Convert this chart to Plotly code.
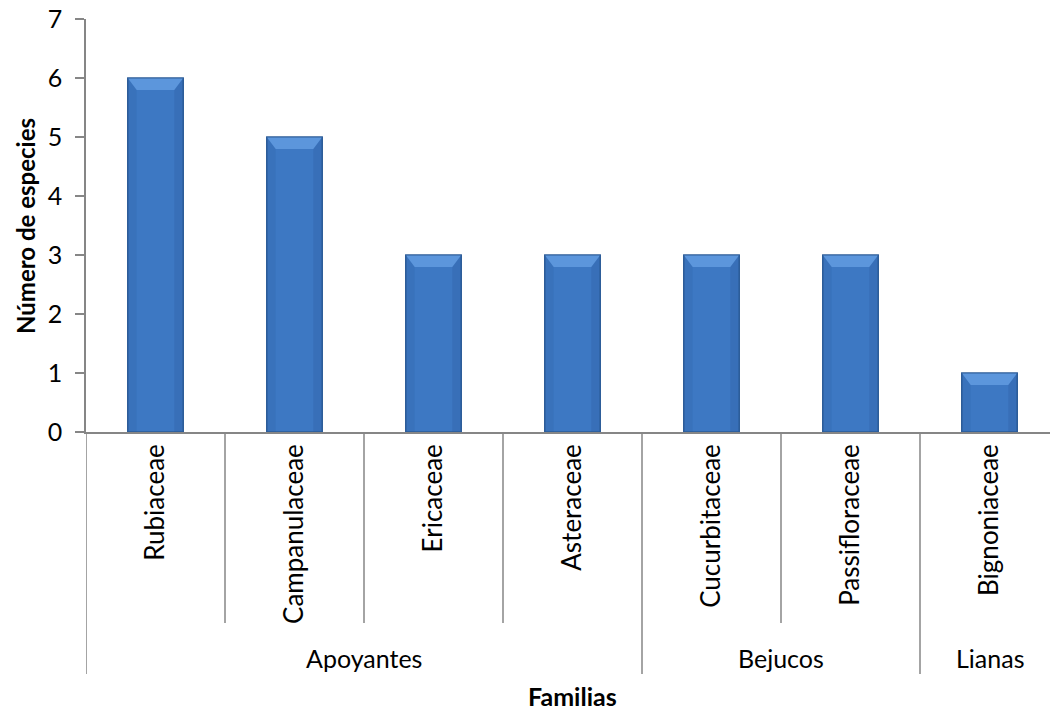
import plotly.graph_objects as go

# Species count per plant family, grouped by climbing habit
familias = ["Rubiaceae", "Campanulaceae", "Ericaceae", "Asteraceae",
            "Cucurbitaceae", "Passifloraceae", "Bignoniaceae"]
especies = [6, 5, 3, 3, 3, 3, 1]
grupos = ["Apoyantes", "Bejucos", "Lianas"]
grupo_tamano = [4, 2, 1]
y_ticks = [0, 1, 2, 3, 4, 5, 6, 7]

FONT = "Lato"
GRID = "#868686"
BAR_W = 0.40
TXT = 25

W, H = 1050, 713
M_L, M_R, M_T, M_B = 86, 0, 19, 281
plot_w = W - M_L - M_R
plot_h = H - M_T - M_B
cat_px = 139.0                     # width of one category slot
x_max = plot_w / cat_px            # last slot runs past the right edge

xs = [i + 0.5 for i in range(len(familias))]

fig = go.Figure()
fig.add_trace(go.Bar(
    x=xs, y=especies, width=BAR_W,
    marker=dict(color="#3D78C3", line=dict(color="#2D5C98", width=1.2)),
    hoverinfo="skip", showlegend=False,
))

# bevel highlights on each bar: light top facet, softly shaded side facets
y_unit = plot_h / 7.0
bev_y = 12 / y_unit
bev_x = 9 / cat_px
shapes = []
for x, v in zip(xs, especies):
    l, r = x - BAR_W / 2, x + BAR_W / 2
    shapes.append(dict(type="path", xref="x", yref="y", layer="above",
                       path=f"M{l},{v} L{r},{v} L{r-bev_x},{v-bev_y} L{l+bev_x},{v-bev_y} Z",
                       fillcolor="#5C96DC", line=dict(width=0)))
    shapes.append(dict(type="path", xref="x", yref="y", layer="above",
                       path=f"M{l},{v} L{l+bev_x},{v-bev_y} L{l+bev_x},{0} L{l},{0} Z",
                       fillcolor="rgba(30,70,130,0.12)", line=dict(width=0)))
    shapes.append(dict(type="path", xref="x", yref="y", layer="above",
                       path=f"M{r},{v} L{r-bev_x},{v-bev_y} L{r-bev_x},{0} L{r},{0} Z",
                       fillcolor="rgba(30,70,130,0.16)", line=dict(width=0)))
    shapes.append(dict(type="rect", xref="x", yref="y", layer="above",
                       x0=l, x1=r, y0=v, y1=0, fillcolor="rgba(0,0,0,0)",
                       line=dict(color="#2D5C98", width=1.2)))

# category dividers below the axis
inner_drop = -(623 - (M_T + plot_h)) / plot_h
outer_drop = -(674 - (M_T + plot_h)) / plot_h
bounds = set()
acc = 0
for n in grupo_tamano:
    acc += n
    bounds.add(acc)
for i in range(0, len(familias)):
    y1 = outer_drop if (i == 0 or i in bounds) else inner_drop
    shapes.append(dict(type="line", xref="x", yref="paper", x0=i, x1=i,
                       y0=0, y1=y1, line=dict(color=GRID, width=1.5)))

annotations = []
start = 0
for g, n in zip(grupos, grupo_tamano):
    annotations.append(dict(text=g, xref="x", yref="paper", x=start + n / 2,
                            y=-(658 - (M_T + plot_h)) / plot_h, showarrow=False,
                            xanchor="center", yanchor="middle",
                            font=dict(family=FONT, size=TXT, color="black")))
    start += n

annotations.append(dict(text="<b>Familias</b>", xref="x", yref="paper",
                        x=len(familias) / 2, y=-(696 - (M_T + plot_h)) / plot_h,
                        showarrow=False, xanchor="center", yanchor="middle",
                        font=dict(family=FONT, size=25, color="black")))
annotations.append(dict(text="<b>Número de especies</b>", xref="paper", yref="paper",
                        x=(25 - M_L) / plot_w, y=(432 - 226) / plot_h, textangle=-90,
                        showarrow=False, xanchor="center", yanchor="middle",
                        font=dict(family=FONT, size=24, color="black")))

fig.update_layout(
    width=W, height=H, autosize=False,
    margin=dict(l=M_L, r=M_R, t=M_T, b=M_B, pad=0),
    paper_bgcolor="white", plot_bgcolor="white",
    font=dict(family=FONT, size=TXT, color="black"),
    bargap=0.6,
    shapes=shapes, annotations=annotations,
    xaxis=dict(range=[0, x_max], tickmode="array", tickvals=xs, ticktext=familias,
               tickangle=-90, ticks="",
               showgrid=False, zeroline=False, showline=True,
               linecolor=GRID, linewidth=1.5, fixedrange=True,
               tickfont=dict(family=FONT, size=26, color="black")),
    yaxis=dict(range=[0, 7], tickmode="array", tickvals=y_ticks,
               ticks="outside", ticklen=9, tickcolor=GRID, tickwidth=1.5,
               showgrid=False, zeroline=False, showline=True,
               linecolor=GRID, linewidth=1.5, fixedrange=True,
               ticklabelstandoff=8,
               tickfont=dict(family=FONT, size=TXT, color="black")),
)

fig.write_html("out.html")
